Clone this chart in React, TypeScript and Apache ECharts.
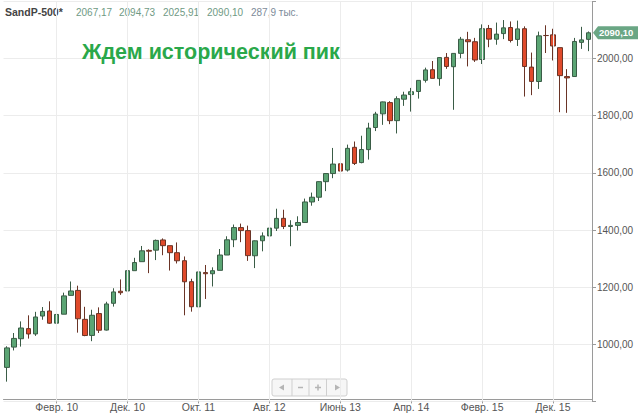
import React, { useEffect, useRef } from "react";
import * as echarts from "echarts";

const monthNames = ["Янв.", "Февр.", "Март", "Апр.", "Май", "Июнь", "Июль", "Авг.", "Сент.", "Окт.", "Нояб.", "Дек."];
const startYear = 2009;
const startMonth = 6; // July (0-based)

const opens = [
  919.21, 990.22, 1019.52, 1054.91, 1036.18, 1098.89,
  1116.56, 1073.89, 1105.36, 1171.23, 1188.58, 1087.3, 1031.1, 1107.53, 1049.72, 1143.49, 1185.71, 1186.6,
  1257.62, 1289.14, 1328.64, 1329.48, 1365.21, 1345.2, 1320.64, 1292.59, 1219.12, 1131.21, 1251.0, 1246.91,
  1258.86, 1312.45, 1365.9, 1408.47, 1397.86, 1309.87, 1362.33, 1379.32, 1406.54, 1440.9, 1412.2, 1416.18,
  1426.19, 1498.11, 1514.68, 1569.18, 1597.55, 1631.71, 1609.78, 1689.42, 1635.95, 1681.34, 1758.7, 1806.55,
  1845.86, 1782.68, 1857.68, 1873.96, 1884.66, 1923.87, 1960.96, 1929.8, 2004.07, 1971.44, 2018.21, 2065.78,
  2058.9, 1996.67, 2105.23, 2067.63, 2087.38, 2108.64, 2067.0, 2104.49, 1970.09, 1919.65, 2080.76, 2082.93,
  2038.2, 1936.94, 1937.09, 2056.62, 2067.17,
];
const highs = [
  993.18, 1039.47, 1080.15, 1101.36, 1113.69, 1130.38,
  1150.45, 1112.42, 1180.69, 1219.8, 1205.13, 1131.23, 1120.95, 1129.24, 1148.9, 1196.14, 1227.08, 1262.6,
  1302.67, 1344.07, 1332.28, 1366.59, 1370.58, 1345.2, 1356.48, 1307.38, 1229.29, 1292.66, 1277.55, 1269.37,
  1333.47, 1378.04, 1419.15, 1422.38, 1415.32, 1363.46, 1391.74, 1426.68, 1474.51, 1470.96, 1434.27, 1448.0,
  1509.94, 1530.94, 1570.28, 1597.57, 1687.18, 1654.19, 1698.78, 1709.67, 1729.86, 1775.22, 1813.55, 1849.44,
  1850.84, 1867.92, 1883.97, 1897.28, 1924.03, 1968.17, 1991.39, 2005.04, 2019.26, 2018.19, 2075.76, 2093.55,
  2072.36, 2119.59, 2117.52, 2125.92, 2134.72, 2129.87, 2132.82, 2112.66, 2020.86, 2094.32, 2116.48, 2104.27,
  2038.2, 1962.96, 2072.21, 2111.05, 2094.73,
];
const lows = [
  869.32, 978.51, 991.97, 1019.95, 1029.38, 1085.89,
  1071.59, 1044.5, 1105.36, 1170.69, 1040.78, 1028.33, 1010.91, 1039.7, 1048.18, 1131.87, 1173.0, 1186.6,
  1257.62, 1289.14, 1249.05, 1294.7, 1311.8, 1258.07, 1282.86, 1101.54, 1114.22, 1074.77, 1158.66, 1202.37,
  1258.86, 1312.45, 1340.03, 1357.38, 1291.98, 1266.74, 1325.41, 1354.65, 1396.56, 1403.28, 1343.35, 1398.11,
  1426.19, 1485.01, 1501.48, 1536.03, 1581.28, 1560.33, 1604.57, 1627.47, 1633.41, 1646.47, 1746.2, 1767.99,
  1770.45, 1737.92, 1834.44, 1814.36, 1859.79, 1915.98, 1930.67, 1904.78, 1964.04, 1820.66, 2001.01, 1972.56,
  1988.12, 1980.9, 2039.69, 2048.38, 2067.93, 2056.32, 2044.02, 1867.01, 1871.91, 1893.7, 2019.39, 1993.26,
  1812.29, 1810.1, 1937.09, 2033.8, 2025.91,
];
const closes = [
  987.48, 1020.62, 1057.08, 1036.19, 1095.63, 1115.1,
  1073.87, 1104.49, 1169.43, 1186.69, 1089.41, 1030.71, 1101.6, 1049.33, 1141.2, 1183.26, 1180.55, 1257.64,
  1286.12, 1327.22, 1325.83, 1363.61, 1345.2, 1320.64, 1292.28, 1218.89, 1131.42, 1253.3, 1246.96, 1257.6,
  1312.41, 1365.68, 1408.47, 1397.91, 1310.33, 1362.16, 1379.32, 1406.58, 1440.67, 1412.16, 1416.18, 1426.19,
  1498.11, 1514.68, 1569.19, 1597.57, 1630.74, 1606.28, 1685.73, 1632.97, 1681.55, 1756.54, 1805.81, 1848.36,
  1782.59, 1859.45, 1872.34, 1883.95, 1923.57, 1960.23, 1930.67, 2003.37, 1972.29, 2018.05, 2067.56, 2058.9,
  1994.99, 2104.5, 2067.89, 2085.51, 2107.39, 2063.11, 2103.84, 1972.18, 1920.03, 2079.36, 2080.41, 2043.94,
  1940.24, 1932.23, 2059.74, 2065.3, 2090.1,
];

const headerName = "SandP-500*";
const headerValues = ["2067,17", "2094,73", "2025,91", "2090,10"];
const headerVolume = "287,9 тыс.";
const titleText = "Ждем исторический пик";

const firstLabelIndex = 7;
const labelStep = 10;
const yMin = 800;
const yMax = 2200;
const yStep = 200;

const categories = opens.map((_, i) => {
  const m = (startMonth + i) % 12;
  const y = startYear + Math.floor((startMonth + i) / 12);
  return monthNames[m] + " " + String(y % 100).padStart(2, "0");
});

const isLabel = (i: number) => i >= firstLabelIndex && (i - firstLabelIndex) % labelStep === 0;
const fmt = (v: number) => v.toFixed(2).replace(".", ",");

export default function App() {
  const ref = useRef<HTMLDivElement>(null);
  useEffect(() => {
    if (!ref.current) return;
    const chart = echarts.init(ref.current, undefined, { renderer: "svg" });
    const font = "'Liberation Sans', Arial, sans-serif";
    const candleData = opens.map((o, i) => [o, closes[i], lows[i], highs[i]]);
    const labelCats = categories.filter((_, i) => isLabel(i));
    chart.setOption({
      animation: false,
      backgroundColor: "#ffffff",
      textStyle: { fontFamily: font },
      grid: { left: 3.5, right: 46, top: 1.4, bottom: 15.55 },
      xAxis: {
        type: "category",
        data: categories,
        boundaryGap: true,
        offset: -2,
        axisLine: { show: true, lineStyle: { color: "#9a9a9a", width: 1 } },
        axisTick: { show: true, alignWithLabel: true, interval: (i: number) => isLabel(i), length: 4, lineStyle: { color: "#9a9a9a" } },
        axisLabel: { interval: (i: number) => isLabel(i), color: "#555", fontSize: 10.5, margin: 2, fontFamily: font },
        splitLine: { show: false },
      },
      yAxis: {
        type: "value",
        position: "right",
        min: yMin,
        max: yMax,
        interval: yStep,
        axisLine: { show: true, lineStyle: { color: "#9a9a9a", width: 1 } },
        axisTick: { show: true, length: 4, lineStyle: { color: "#9a9a9a" } },
        axisLabel: {
          color: "#555",
          fontSize: 10,
          margin: 5,
          fontFamily: font,
          formatter: (v: number) => (v < 1000 || v > 2000 ? "" : fmt(v)),
        },
        splitLine: { show: true, lineStyle: { color: "#ececec", width: 1 } },
      },
      series: [
        {
          type: "line",
          data: [],
          z: 1,
          silent: true,
          markLine: {
            silent: true,
            symbol: ["none", "none"],
            label: { show: false },
            lineStyle: { color: "#ececec", width: 1, type: "solid" },
            data: labelCats.map((c) => ({ xAxis: c })),
          },
        },
        {
          type: "candlestick",
          z: 3,
          data: candleData,
          barWidth: 5,
          itemStyle: {
            color: "#5ba574",
            color0: "#e04a2b",
            borderColor: "#3a5c46",
            borderColor0: "#6a3426",
            borderWidth: 1,
          },
        },
      ],
    });

    const lastClose = closes[closes.length - 1];
    const py = chart.convertToPixel({ yAxisIndex: 0 }, lastClose) as number;
    const ax = 593;
    const headerTexts: any[] = [];
    const valueX = [76, 119, 163, 207];
    headerValues.forEach((t, i) =>
      headerTexts.push({
        type: "text",
        x: valueX[i],
        y: 12,
        style: { text: t, font: `10px ${font}`, fill: "#6f9a84", verticalAlign: "middle" },
      })
    );
    chart.setOption({
      graphic: [
        {
          type: "text",
          x: 5,
          y: 12,
          style: { text: headerName, font: `bold 10.5px ${font}`, fill: "#444", verticalAlign: "middle" },
        },
        ...headerTexts,
        {
          type: "text",
          x: 251,
          y: 12,
          style: { text: headerVolume, font: `10px ${font}`, fill: "#7d8b99", verticalAlign: "middle" },
        },
        {
          type: "text",
          x: 82,
          y: 52,
          style: { text: titleText, font: `bold 21.5px ${font}`, fill: "#2aa84a", verticalAlign: "middle" },
        },
        {
          type: "polygon",
          shape: { points: [[ax, py], [ax + 5, py - 6.5], [638, py - 6.5], [638, py + 6.5], [ax + 5, py + 6.5]] },
          style: { fill: "#6aa684" },
          z: 10,
        },
        {
          type: "text",
          x: ax + 6,
          y: py,
          z: 11,
          style: { text: fmt(lastClose), font: `bold 9.5px ${font}`, fill: "#ffffff", verticalAlign: "middle" },
        },
        {
          type: "group",
          x: 272,
          y: 379,
          z: 10,
          children: [
            { type: "rect", shape: { x: 0, y: 0, width: 75, height: 17, r: 2 }, style: { fill: "#f6f6f6", stroke: "#cfcfcf", lineWidth: 1 } },
            { type: "line", shape: { x1: 20, y1: 0, x2: 20, y2: 17 }, style: { stroke: "#cfcfcf", lineWidth: 1 } },
            { type: "line", shape: { x1: 37, y1: 0, x2: 37, y2: 17 }, style: { stroke: "#cfcfcf", lineWidth: 1 } },
            { type: "line", shape: { x1: 54.5, y1: 0, x2: 54.5, y2: 17 }, style: { stroke: "#cfcfcf", lineWidth: 1 } },
            { type: "polygon", shape: { points: [[7, 8.5], [12, 5.5], [12, 11.5]] }, style: { fill: "#b5b5b5" } },
            { type: "line", shape: { x1: 26, y1: 8.5, x2: 31, y2: 8.5 }, style: { stroke: "#b5b5b5", lineWidth: 1.5 } },
            { type: "line", shape: { x1: 43, y1: 8.5, x2: 49, y2: 8.5 }, style: { stroke: "#b5b5b5", lineWidth: 1.5 } },
            { type: "line", shape: { x1: 46, y1: 5.5, x2: 46, y2: 11.5 }, style: { stroke: "#b5b5b5", lineWidth: 1.5 } },
            { type: "polygon", shape: { points: [[68, 8.5], [63, 5.5], [63, 11.5]] }, style: { fill: "#b5b5b5" } },
          ],
        },
      ],
    });
    return () => chart.dispose();
  }, []);
  return <div ref={ref} style={{ position: "absolute", left: 0, top: 0, width: 638, height: 417 }} />;
}
